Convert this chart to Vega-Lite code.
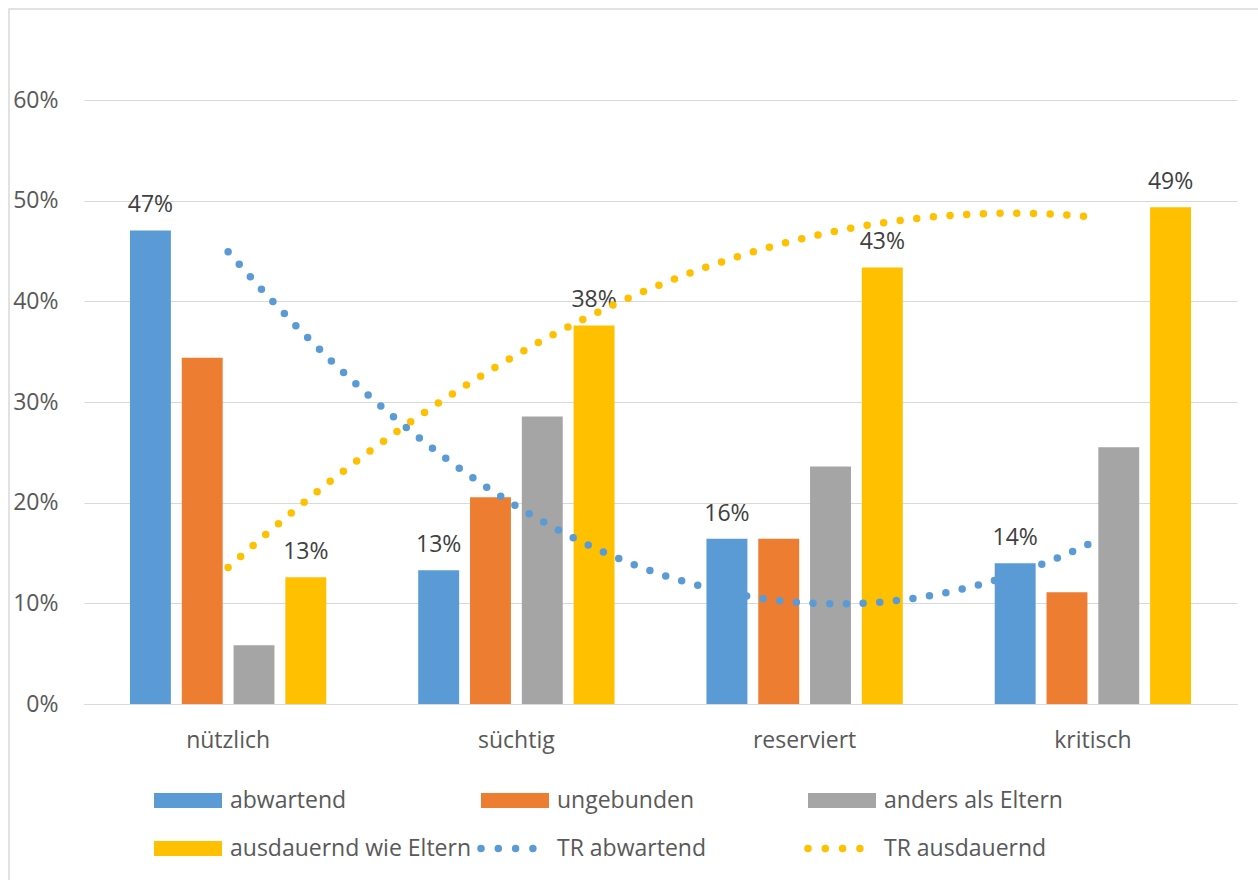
{
  "$schema": "https://vega.github.io/schema/vega-lite/v6.json",
  "width": 1280,
  "height": 900,
  "autosize": {"type": "none"},
  "padding": {"left": 9, "top": 9, "right": 0, "bottom": 0},
  "background": "white",
  "config": {
    "font": "Open Sans",
    "view": {"stroke": "#d9d9d9", "strokeWidth": 1.5},
    "axis": {"labelFont": "Open Sans", "labelFontSize": 23, "labelColor": "#595959"}
  },
  "data": {
    "values": [
      {"Kategorie": "nützlich", "Serie": "abwartend", "Trend": "TR abwartend", "Wert": 0.4704},
      {"Kategorie": "nützlich", "Serie": "ungebunden", "Wert": 0.344},
      {"Kategorie": "nützlich", "Serie": "anders als Eltern", "Wert": 0.0583},
      {"Kategorie": "nützlich", "Serie": "ausdauernd wie Eltern", "Trend": "TR ausdauernd", "Wert": 0.1258},
      {"Kategorie": "süchtig", "Serie": "abwartend", "Trend": "TR abwartend", "Wert": 0.1328},
      {"Kategorie": "süchtig", "Serie": "ungebunden", "Wert": 0.2053},
      {"Kategorie": "süchtig", "Serie": "anders als Eltern", "Wert": 0.2857},
      {"Kategorie": "süchtig", "Serie": "ausdauernd wie Eltern", "Trend": "TR ausdauernd", "Wert": 0.376},
      {"Kategorie": "reserviert", "Serie": "abwartend", "Trend": "TR abwartend", "Wert": 0.1642},
      {"Kategorie": "reserviert", "Serie": "ungebunden", "Wert": 0.1642},
      {"Kategorie": "reserviert", "Serie": "anders als Eltern", "Wert": 0.236},
      {"Kategorie": "reserviert", "Serie": "ausdauernd wie Eltern", "Trend": "TR ausdauernd", "Wert": 0.4337},
      {"Kategorie": "kritisch", "Serie": "abwartend", "Trend": "TR abwartend", "Wert": 0.1397},
      {"Kategorie": "kritisch", "Serie": "ungebunden", "Wert": 0.111},
      {"Kategorie": "kritisch", "Serie": "anders als Eltern", "Wert": 0.255},
      {"Kategorie": "kritisch", "Serie": "ausdauernd wie Eltern", "Trend": "TR ausdauernd", "Wert": 0.4935}
    ]
  },
  "layer": [
    {
      "encoding": {
        "x": {
          "field": "Kategorie", "type": "nominal",
          "sort": ["nützlich", "süchtig", "reserviert", "kritisch"],
          "scale": {"range": [75, 1228], "paddingInner": 0.319, "paddingOuter": 0.1595},
          "axis": {"title": null, "labelAngle": 0, "ticks": false, "tickSize": 0, "domain": true, "domainColor": "#d9d9d9", "domainWidth": 1, "labelPadding": 25, "grid": false, "offset": -205}
        },
        "xOffset": {
          "field": "Serie", "type": "nominal",
          "sort": ["abwartend", "ungebunden", "anders als Eltern", "ausdauernd wie Eltern"],
          "scale": {"paddingInner": 0.21, "paddingOuter": 0}
        },
        "y": {
          "field": "Wert", "type": "quantitative",
          "scale": {"domain": [0, 0.6], "nice": false, "range": [695, 91]},
          "axis": {"title": null, "format": ".0%", "values": [0, 0.1, 0.2, 0.3, 0.4, 0.5, 0.6], "domain": false, "ticks": false, "tickSize": 0, "labelPadding": 26, "gridColor": "#d9d9d9", "gridWidth": 1, "offset": -75}
        }
      },
      "layer": [
        {
          "mark": {"type": "bar"},
          "encoding": {
            "color": {
              "field": "Serie", "type": "nominal",
              "scale": {
                "domain": ["abwartend", "ungebunden", "anders als Eltern", "ausdauernd wie Eltern", "TR abwartend", "TR ausdauernd"],
                "range": ["#5B9BD5", "#ED7D31", "#A5A5A5", "#FFC000", "#5B9BD5", "#FFC000"]
              },
              "legend": {
                "title": null,
                "orient": "none",
                "legendX": 141,
                "legendY": 767.5,
                "direction": "horizontal",
                "columns": 3,
                "gridAlign": "all",
                "columnPadding": 6,
                "rowPadding": 0,
                "clipHeight": 48,
                "symbolSize": 4624,
                "symbolStrokeWidth": 7.5,
                "symbolOffset": 0,
                "labelOffset": 4,
                "labelFontSize": 23,
                "labelFont": "Open Sans",
                "labelColor": "#595959",
                "labelLimit": 400,
                "padding": 0,
                "encoding": {
                  "symbols": {
                    "shape": {"value": {"expr": "(datum.value == 'TR abwartend' || datum.value == 'TR ausdauernd') ? 'stroke' : 'M-1,-0.22H1V0.22H-1Z'"}},
                    "fill": {"value": {"expr": "(datum.value == 'TR abwartend' || datum.value == 'TR ausdauernd') ? 'transparent' : scale('color', datum.value)"}},
                    "stroke": {"value": {"expr": "(datum.value == 'TR abwartend' || datum.value == 'TR ausdauernd') ? scale('color', datum.value) : 'transparent'"}},
                    "strokeOpacity": {"value": {"expr": "(datum.value == 'TR abwartend' || datum.value == 'TR ausdauernd') ? 1 : 0"}},
                    "strokeDash": {"value": [0, 17.3]},
                    "strokeCap": {"value": "round"},
                    "strokeWidth": {"value": 7.5},
                    "opacity": {"value": 1}
                  }
                }
              }
            }
          }
        },
        {
          "transform": [{"filter": {"field": "Trend", "oneOf": ["TR abwartend", "TR ausdauernd"]}}],
          "mark": {"type": "text", "baseline": "alphabetic", "dy": -18, "fontSize": 23, "font": "Open Sans", "color": "#404040"},
          "encoding": {
            "text": {"field": "Wert", "type": "quantitative", "format": ".0%"}
          }
        }
      ]
    },
    {
      "transform": [
        {"filter": {"field": "Trend", "oneOf": ["TR abwartend", "TR ausdauernd"]}},
        {"window": [{"op": "row_number", "as": "Nr"}], "groupby": ["Trend"]},
        {"regression": "Wert", "on": "Nr", "groupby": ["Trend"], "method": "poly", "order": 2, "extent": [1, 4]}
      ],
      "mark": {"type": "line", "strokeDash": [0, 16.7], "strokeCap": "round", "strokeWidth": 7.5},
      "encoding": {
        "x": {"field": "Nr", "type": "quantitative", "scale": {"domain": [0.5, 4.5], "nice": false, "zero": false, "range": [75, 1228]}, "axis": null},
        "y": {"field": "Wert", "type": "quantitative"},
        "color": {
          "field": "Trend", "type": "nominal",
          "scale": {
            "domain": ["abwartend", "ungebunden", "anders als Eltern", "ausdauernd wie Eltern", "TR abwartend", "TR ausdauernd"],
            "range": ["#5B9BD5", "#ED7D31", "#A5A5A5", "#FFC000", "#5B9BD5", "#FFC000"]
          }
        }
      }
    }
  ],
  "resolve": {"scale": {"x": "independent"}}
}
